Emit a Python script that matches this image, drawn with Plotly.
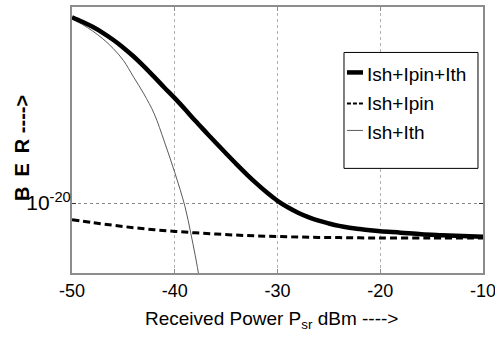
import plotly.graph_objects as go

# Received power (dBm) and BER values
x_total = [-50, -49, -48, -47, -46, -45, -44, -43, -42, -41, -40, -39, -38, -37, -36,
           -35, -34, -33, -32, -31, -30, -29, -28, -27, -26, -25, -24, -23, -22, -21,
           -20, -18, -16, -14, -12, -10]
ber_total = [3.16e-05, 1.32e-05, 5.0e-06, 1.58e-06, 4.17e-07, 9.1e-08, 1.66e-08, 2.51e-09,
             3.31e-10, 4.17e-11, 5.6e-12, 6.6e-13, 7.2e-14, 8.7e-15, 1.07e-15,
             1.35e-16, 1.78e-17, 2.51e-18, 3.98e-19, 7.2e-20, 1.55e-20, 4.47e-21, 1.58e-21,
             6.8e-22, 3.39e-22, 2.0e-22, 1.26e-22, 8.9e-23, 6.8e-23, 5.4e-23,
             4.47e-23, 3.39e-23, 2.51e-23, 2.09e-23, 1.78e-23, 1.58e-23]

x_pin = [-50, -48, -46, -44, -42, -40, -38, -36, -34, -32, -30, -28, -26, -24, -22, -20, -15, -10]
ber_pin = [4.17e-22, 2.34e-22, 1.41e-22, 8.9e-23, 6.0e-23, 4.37e-23, 3.3e-23, 2.63e-23,
           2.14e-23, 1.82e-23, 1.62e-23, 1.48e-23, 1.38e-23, 1.32e-23, 1.26e-23,
           1.23e-23, 1.2e-23, 1.2e-23]

x_th = [-50, -49, -48, -47, -46, -45, -44, -43, -42, -41, -40, -39, -38.43, -38, -37.5]
ber_th = [2.34e-05, 7.9e-06, 2.24e-06, 5.0e-07, 7.9e-08, 7.9e-09, 3.16e-10, 1.26e-11,
          2.8e-13, 1.26e-15, 3.55e-18, 5.0e-21, 2.8e-23, 4.0e-25, 1.6e-27]

names = ["Ish+Ipin+Ith", "Ish+Ipin", "Ish+Ith"]
x_ticks = [-50, -40, -30, -20, -10]
x_tick_text = ["-50", "-40", "-30", "-20", "-10"]
y_ticks = [1e-20]
y_tick_text = ["10<sup>-20</sup>"]

FONT = "Liberation Sans, Arial, sans-serif"

fig = go.Figure()
fig.add_trace(go.Scatter(x=x_pin, y=ber_pin, name=names[1], mode="lines",
                         line=dict(color="black", width=3, dash="7px,4px", shape="spline")))
fig.add_trace(go.Scatter(x=x_th, y=ber_th, name=names[2], mode="lines",
                         line=dict(color="#5a5a5a", width=1, shape="spline")))
fig.add_trace(go.Scatter(x=x_total, y=ber_total, name=names[0], mode="lines",
                         line=dict(color="black", width=4.5, shape="spline")))

fig.update_layout(
    width=495, height=351,
    margin=dict(l=72, r=12, t=6.5, b=78.3),
    paper_bgcolor="white", plot_bgcolor="white",
    showlegend=False,
    font=dict(family=FONT, color="black"),
)
fig.update_xaxes(
    range=[-50, -10], tickvals=x_ticks, ticktext=x_tick_text,
    tickfont=dict(size=18, family=FONT), automargin=False, ticklabeloverflow="allow",
    showline=True, linecolor="#8c8c8c", linewidth=2, mirror="ticks",
    ticks="inside", ticklen=4, tickcolor="#8c8c8c",
    showgrid=True, gridcolor="#b0b0b0", griddash="dot", gridwidth=1,
    zeroline=False,
)
fig.update_yaxes(
    type="log", range=[-25.83, -3.65], tickvals=y_ticks, ticktext=y_tick_text,
    tickfont=dict(size=21, family=FONT), automargin=False, ticklabeloverflow="allow",
    ticklabelstandoff=-5,
    showline=True, linecolor="#8c8c8c", linewidth=2, mirror="ticks",
    ticks="inside", ticklen=4, tickcolor="#333333",
    showgrid=True, gridcolor="#8a8a8a", griddash="dot", gridwidth=1,
    zeroline=False,
)

# coloured horizontal line at 1e-10
fig.add_shape(type="line", xref="paper", x0=0, x1=1, yref="y", y0=-10, y1=-10,
              line=dict(color="#c7a9c2", width=2), layer="below")

# axis titles
fig.add_annotation(text="Received Power P<sub>sr</sub> dBm ---->", xref="paper", yref="paper",
                   x=0.4866, y=-0.125, xanchor="center", yanchor="top", showarrow=False,
                   font=dict(size=19, family=FONT, color="black"))
fig.add_annotation(text="<b>B\u2002E\u2002R ----></b>", xref="paper", yref="paper",
                   x=-0.1217, y=0.47, xanchor="center", yanchor="middle", textangle=-90,
                   showarrow=False, font=dict(size=20, family=FONT, color="black"))

# legend box drawn manually
fig.add_shape(type="rect", xref="paper", yref="paper", x0=0.6618, x1=0.9878, y0=0.3933, y1=0.8291,
              line=dict(color="black", width=1), fillcolor="white", layer="above")
legend_y_line = [0.754, 0.6375, 0.536]
legend_y_text = [0.7465, 0.6375, 0.5282]
legend_styles = [dict(color="black", width=4.5), dict(color="black", width=2, dash="4px,2px"),
                 dict(color="#5a5a5a", width=1)]
for name, yl, yt, st in zip(names, legend_y_line, legend_y_text, legend_styles):
    fig.add_shape(type="line", xref="paper", yref="paper", x0=0.669, x1=0.708, y0=yl, y1=yl,
                  line=st, layer="above")
    fig.add_annotation(text=name, xref="paper", yref="paper", x=0.7129, y=yt,
                       xanchor="left", yanchor="middle", showarrow=False,
                       font=dict(size=19, family=FONT, color="black"))

fig.write_html("out.html", config={"displayModeBar": False},
               post_script="document.body.style.margin='0';")
